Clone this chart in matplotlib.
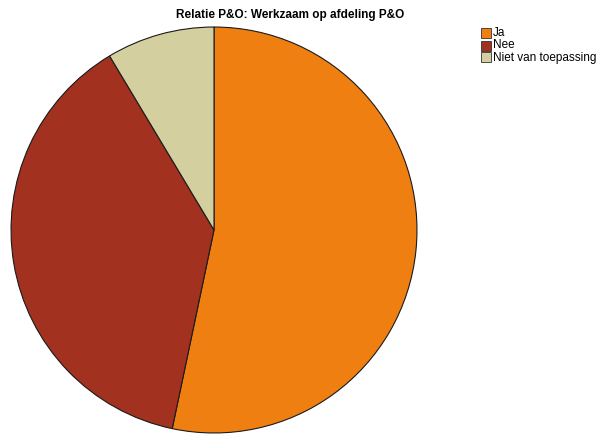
import matplotlib
matplotlib.use("Agg")
import matplotlib.pyplot as plt
from matplotlib.patches import Rectangle

categories = ["Ja", "Nee", "Niet van toepassing"]
shares = [53.3, 38.1, 8.6]
colors = ["#F07F12", "#A2311F", "#D4CF9E"]
title = "Relatie P&O: Werkzaam op afdeling P&O"

W, H = 614, 436
fig = plt.figure(figsize=(W / 100, H / 100), dpi=100)
fig.patch.set_facecolor("white")

# pie area: centre (214, 230) px, radius 205 px
cx, cy, r = 214, 230, 205
ax = fig.add_axes([(cx - r) / W, (H - cy - r) / H, 2 * r / W, 2 * r / H])
ax.pie(shares, colors=colors, startangle=90, counterclock=False, radius=1.0,
       wedgeprops=dict(edgecolor="#1a1a1a", linewidth=0.8))
ax.set_xlim(-1.01, 1.01)
ax.set_ylim(-1.01, 1.01)
ax.set_aspect("equal")
ax.axis("off")

fig.text(290 / W, 1 - 15 / H, title, ha="center", va="center",
         fontsize=8.5, fontweight="bold", family="Liberation Sans")

# legend
lx, ly0, step, box = 481, 33.5, 12, 10
for i, (lab, col) in enumerate(zip(categories, colors)):
    y = ly0 + i * step
    fig.add_artist(Rectangle((lx / W, 1 - (y + box / 2) / H), box / W, box / H,
                             transform=fig.transFigure, facecolor=col,
                             edgecolor="#333333", linewidth=0.6))
    fig.text((lx + box + 2) / W, 1 - y / H, lab, ha="left", va="center",
             fontsize=8.5, family="Liberation Sans")

fig.savefig("out.png", dpi=100)
